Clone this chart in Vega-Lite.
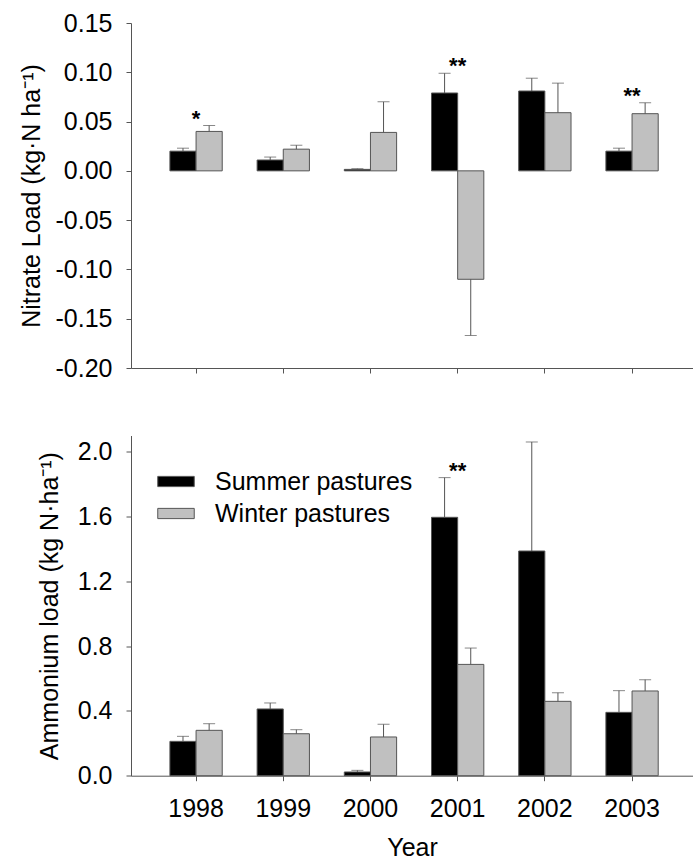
{
  "$schema": "https://vega.github.io/schema/vega-lite/v6.json",
  "autosize": {"type": "pad"},
  "padding": {"left": 19, "top": 11, "right": 0, "bottom": 0},
  "background": "white",
  "bounds": "flush",
  "spacing": 67.5,
  "resolve": {"legend": {"color": "independent"}, "scale": {"color": "independent"}},
  "config": {
    "view": {"stroke": null},
    "font": "Liberation Sans",
    "axis": {
      "grid": false,
      "domainColor": "#555555",
      "tickColor": "#555555",
      "tickSize": 5,
      "labelColor": "#000000",
      "labelFontSize": 25,
      "labelFont": "Liberation Sans",
      "titleFont": "Liberation Sans",
      "titleFontSize": 25,
      "titleFontWeight": "normal",
      "titleColor": "#000000"
    },
    "legend": {
      "labelFont": "Liberation Sans"
    }
  },
  "datasets": {
    "bars": [
      {"year": 1998, "pasture": "Summer pastures", "nitrate": 0.020, "nitrate_hi": 0.023, "ammonium": 0.212, "ammonium_hi": 0.243},
      {"year": 1998, "pasture": "Winter pastures", "nitrate": 0.040, "nitrate_hi": 0.046, "ammonium": 0.280, "ammonium_hi": 0.321},
      {"year": 1999, "pasture": "Summer pastures", "nitrate": 0.011, "nitrate_hi": 0.014, "ammonium": 0.412, "ammonium_hi": 0.449},
      {"year": 1999, "pasture": "Winter pastures", "nitrate": 0.022, "nitrate_hi": 0.026, "ammonium": 0.259, "ammonium_hi": 0.284},
      {"year": 2000, "pasture": "Summer pastures", "nitrate": 0.0015, "nitrate_hi": 0.0022, "ammonium": 0.023, "ammonium_hi": 0.033},
      {"year": 2000, "pasture": "Winter pastures", "nitrate": 0.039, "nitrate_hi": 0.070, "ammonium": 0.239, "ammonium_hi": 0.317},
      {"year": 2001, "pasture": "Summer pastures", "nitrate": 0.079, "nitrate_hi": 0.099, "ammonium": 1.595, "ammonium_hi": 1.840},
      {"year": 2001, "pasture": "Winter pastures", "nitrate": -0.110, "nitrate_hi": -0.167, "ammonium": 0.687, "ammonium_hi": 0.788},
      {"year": 2002, "pasture": "Summer pastures", "nitrate": 0.081, "nitrate_hi": 0.094, "ammonium": 1.387, "ammonium_hi": 2.060},
      {"year": 2002, "pasture": "Winter pastures", "nitrate": 0.059, "nitrate_hi": 0.089, "ammonium": 0.459, "ammonium_hi": 0.512},
      {"year": 2003, "pasture": "Summer pastures", "nitrate": 0.020, "nitrate_hi": 0.023, "ammonium": 0.391, "ammonium_hi": 0.525},
      {"year": 2003, "pasture": "Winter pastures", "nitrate": 0.058, "nitrate_hi": 0.069, "ammonium": 0.523, "ammonium_hi": 0.593}
    ],
    "stars_top": [
      {"year": 1998, "label": "*", "pos": 0.046},
      {"year": 2001, "label": "**", "pos": 0.099},
      {"year": 2003, "label": "**", "pos": 0.069}
    ],
    "stars_bottom": [
      {"year": 2001, "label": "**", "pos": 1.84}
    ]
  },
  "vconcat": [
    {
      "width": 562,
      "height": 345,
      "layer": [
        {
          "data": {"name": "bars"},
          "mark": {"type": "bar", "stroke": "#555555", "strokeWidth": 1},
          "encoding": {
            "x": {"field": "year", "type": "ordinal", "title": null,
              "scale": {"paddingInner": 0.4, "paddingOuter": 0.4226, "align": 0.528},
              "axis": {"labels": false, "ticks": true, "domain": true, "title": null}},
            "xOffset": {"field": "pasture", "type": "nominal", "scale": {"paddingInner": 0, "paddingOuter": 0}},
            "y": {"field": "nitrate", "type": "quantitative", "title": "Nitrate Load (kg·N ha⁻¹)",
              "scale": {"domain": [-0.2, 0.15], "nice": false, "zero": false},
              "axis": {"values": [-0.2, -0.15, -0.1, -0.05, 0, 0.05, 0.1, 0.15],
                "labelExpr": "replace(format(datum.value, '.2f'), '\u2212', '-')",
                "labelPadding": 14, "titlePadding": 11}},
            "color": {"field": "pasture", "type": "nominal",
              "scale": {"domain": ["Summer pastures", "Winter pastures"], "range": ["#000000", "#c0c0c0"]},
              "legend": null}
          }
        },
        {
          "data": {"name": "bars"},
          "mark": {"type": "rule", "color": "#555555", "strokeWidth": 1},
          "encoding": {
            "x": {"field": "year", "type": "ordinal", "title": null},
            "xOffset": {"field": "pasture", "type": "nominal"},
            "y": {"field": "nitrate", "type": "quantitative", "title": "Nitrate Load (kg·N ha⁻¹)"},
            "y2": {"field": "nitrate_hi"}
          }
        },
        {
          "data": {"name": "bars"},
          "mark": {"type": "tick", "color": "#555555", "thickness": 1, "size": 12, "orient": "horizontal"},
          "encoding": {
            "x": {"field": "year", "type": "ordinal", "title": null},
            "xOffset": {"field": "pasture", "type": "nominal"},
            "y": {"field": "nitrate_hi", "type": "quantitative", "title": "Nitrate Load (kg·N ha⁻¹)"}
          }
        },
        {
          "mark": {"type": "rule", "color": "#555555", "strokeWidth": 1},
          "encoding": {"y": {"datum": 0, "type": "quantitative"}}
        },
        {
          "data": {"name": "stars_top"},
          "mark": {"type": "text", "fontSize": 22, "fontWeight": "bold", "baseline": "alphabetic", "align": "center", "color": "#000000"},
          "encoding": {
            "x": {"field": "year", "type": "ordinal", "title": null},
            "y": {"field": "pos", "type": "quantitative", "title": "Nitrate Load (kg·N ha⁻¹)"},
            "text": {"field": "label"}
          }
        }
      ]
    },
    {
      "width": 562,
      "height": 340.2,
      "layer": [
        {
          "data": {"name": "bars"},
          "mark": {"type": "bar", "stroke": "#555555", "strokeWidth": 1},
          "encoding": {
            "x": {"field": "year", "type": "ordinal", "title": "Year",
              "scale": {"paddingInner": 0.4, "paddingOuter": 0.4226, "align": 0.528},
              "axis": {"labelAngle": 0, "labelPadding": 16, "titlePadding": 14}},
            "xOffset": {"field": "pasture", "type": "nominal", "scale": {"paddingInner": 0, "paddingOuter": 0}},
            "y": {"field": "ammonium", "type": "quantitative", "title": "Ammonium load (kg N·ha⁻¹)",
              "scale": {"domain": [0, 2.1], "nice": false},
              "axis": {"values": [0, 0.4, 0.8, 1.2, 1.6, 2.0], "format": ".1f", "labelPadding": 14, "titlePadding": 15}},
            "color": {"field": "pasture", "type": "nominal",
              "scale": {"domain": ["Summer pastures", "Winter pastures"], "range": ["#000000", "#c0c0c0"]},
              "legend": {
                "title": null,
                "orient": "none",
                "legendX": 26,
                "legendY": 27,
                "padding": 0,
                "symbolType": "M-1,-0.28H1V0.28H-1Z",
                "symbolSize": 1332,
                "symbolStrokeColor": "#555555",
                "symbolStrokeWidth": 1,
                "labelFontSize": 25,
                "labelColor": "#000000",
                "labelOffset": 20,
                "labelLimit": 0,
                "rowPadding": -10.5
              }}
          }
        },
        {
          "data": {"name": "bars"},
          "mark": {"type": "rule", "color": "#555555", "strokeWidth": 1},
          "encoding": {
            "x": {"field": "year", "type": "ordinal", "title": "Year"},
            "xOffset": {"field": "pasture", "type": "nominal"},
            "y": {"field": "ammonium", "type": "quantitative", "title": "Ammonium load (kg N·ha⁻¹)"},
            "y2": {"field": "ammonium_hi"}
          }
        },
        {
          "data": {"name": "bars"},
          "mark": {"type": "tick", "color": "#555555", "thickness": 1, "size": 12, "orient": "horizontal"},
          "encoding": {
            "x": {"field": "year", "type": "ordinal", "title": "Year"},
            "xOffset": {"field": "pasture", "type": "nominal"},
            "y": {"field": "ammonium_hi", "type": "quantitative", "title": "Ammonium load (kg N·ha⁻¹)"}
          }
        },
        {
          "data": {"name": "stars_bottom"},
          "mark": {"type": "text", "fontSize": 22, "fontWeight": "bold", "baseline": "alphabetic", "align": "center", "color": "#000000"},
          "encoding": {
            "x": {"field": "year", "type": "ordinal", "title": "Year"},
            "y": {"field": "pos", "type": "quantitative", "title": "Ammonium load (kg N·ha⁻¹)"},
            "text": {"field": "label"}
          }
        }
      ]
    }
  ]
}
